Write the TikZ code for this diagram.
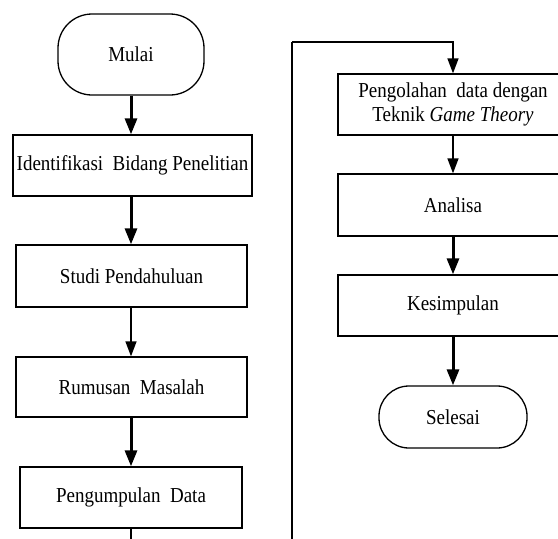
\documentclass[tikz,border=0pt]{standalone}
\usepackage{fontspec}
\usepackage{graphicx}
\setmainfont{Liberation Serif}
\usetikzlibrary{arrows.meta}
\newcommand{\tallt}[1]{\scalebox{1}[1.12]{#1}}
\begin{document}
\begin{tikzpicture}[x=1pt,y=-1pt,
  every node/.style={font=\fontsize{19}{24}\selectfont, inner sep=0pt, align=center},
  procbox/.style={draw, line width=1.3pt, rectangle},
  termbox/.style={draw, line width=1.3pt, rectangle, rounded corners=#1},
  thickarr/.style={line width=3pt, -{Triangle[length=16pt,width=12pt]}},
  thinarr/.style={line width=1.4pt, -{Triangle[length=15pt,width=11pt]}},
  thinline/.style={line width=1.4pt}]
\useasboundingbox (0,0) rectangle (558,539);
\fill[white] (0,0) rectangle (558,539);
\clip (0,0) rectangle (558,539);
% left column
\node[termbox=34pt, minimum width=146pt, minimum height=81pt] (mulai) at (131,54.5) {\tallt{Mulai}};
\node[procbox, minimum width=239pt, minimum height=61pt] (ident) at (132.5,165.5) {\tallt{Identifikasi\ \ Bidang Penelitian}};
\node[procbox, minimum width=231pt, minimum height=62pt] (studi) at (131.5,276) {\tallt{Studi Pendahuluan}};
\node[procbox, minimum width=231pt, minimum height=60pt] (rumus) at (131.5,387) {\tallt{Rumusan\ \ Masalah}};
\node[procbox, minimum width=222pt, minimum height=61pt] (kumpul) at (131,497.5) {\tallt{Pengumpulan\ \ Data}};
% right column
\node[procbox, minimum width=230pt, minimum height=61pt] (olah) at (453,104.5) {\tallt{Pengolahan\ \ data dengan}\\\tallt{Teknik \textit{Game Theory}}};
\node[procbox, minimum width=230pt, minimum height=62pt] (analisa) at (453,205) {\tallt{Analisa}};
\node[procbox, minimum width=230pt, minimum height=61pt] (simpul) at (453,305.5) {\tallt{Kesimpulan}};
\node[termbox=30pt, minimum width=148pt, minimum height=62pt] (selesai) at (453,417) {\tallt{Selesai}};
% connectors
\draw[thickarr] (mulai.south -| 131,0) -- (ident.north -| 131,0);
\draw[thickarr] (ident.south -| 131,0) -- (studi.north -| 131,0);
\draw[thinarr] (studi.south -| 131,0) -- (rumus.north -| 131,0);
\draw[thickarr] (rumus.south -| 131,0) -- (kumpul.north -| 131,0);
\coordinate (offpage) at (131,570);
\coordinate (topturn) at (292,42);
\draw[thinline] (kumpul.south) -- (offpage) -| (topturn);
\draw[thinarr] (topturn) -| (olah.north);
\draw[thinarr] (olah.south) -- (analisa.north);
\draw[thickarr] (analisa.south) -- (simpul.north);
\draw[thickarr] (simpul.south) -- (selesai.north);
\end{tikzpicture}
\end{document}
